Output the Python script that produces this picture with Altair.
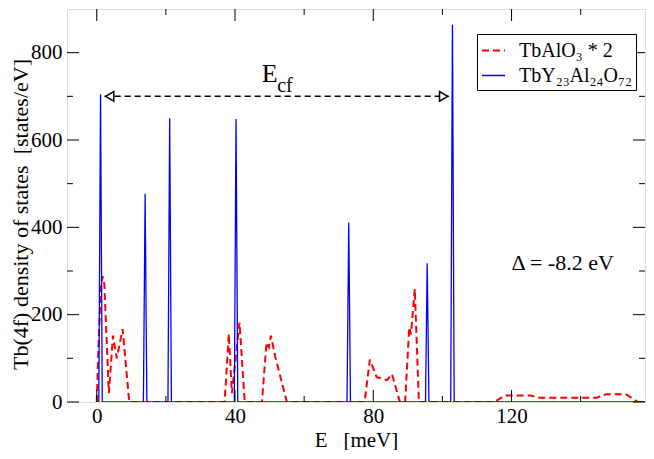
import altair as alt
import pandas as pd

# ---- data ----
red_name = "TbAlO₃ * 2"
blue_name = "TbY₂₃Al₂₄O₇₂"

red_x = [0.0, 0.6, 1.2, 1.7, 2.2, 3.5, 4.7, 5.8, 7.5, 9.4,
         37.0, 38.2, 39.1, 41.3, 42.8,
         47.8, 49.1, 49.8, 50.4, 51.6, 55.0,
         77.5, 79.0, 81.0, 84.0, 85.4, 87.7,
         89.2, 90.4, 90.9, 92.0, 93.2,
         115.1, 118.0, 125.6, 127.4, 144.6, 147.4, 153.0, 156.6, 158.6]
red_y = [0, 150, 260, 288, 270, 20, 152, 100, 167, 0,
         0, 156, 20, 182, 0,
         0, 136, 125, 152, 105, 0,
         0, 97, 57, 50, 64, 0,
         0, 171, 155, 259, 0,
         0, 15, 15, 10, 10, 18, 18, 0, 0]

blue_x = [0.0, 0.6, 1.1, 1.6, 13.5, 14.0, 14.5, 20.6, 21.1, 21.6,
          39.8, 40.3, 40.8, 72.4, 72.9, 73.4, 95.1, 95.6, 96.1,
          102.4, 102.9, 103.4, 158.6]
blue_y = [0, 0, 705, 0, 0, 477, 0, 0, 650, 0,
          0, 648, 0, 0, 411, 0, 0, 318, 0,
          0, 864, 0, 0]

x_major = [0, 40, 80, 120]
x_minor = [20, 60, 100, 140]
y_major = [0, 200, 400, 600, 800]
y_minor = [100, 300, 500, 700]

arrow_tips = [2.3, 101.8]
arrow_level = [700]
ecf_main = ["E"]
ecf_sub = ["cf"]
delta_text = ["Δ = -8.2 eV"]

x_title = "E\u00a0\u00a0\u00a0[meV]"
y_title = "Tb(4f) density of states\u00a0\u00a0[states/eV]"

# ---- layout ----
W, H = 578, 393
XDOM = [-8.6, 158.6]
YDOM = [0, 900]
FONT = "Liberation Serif, Times New Roman, serif"

df = pd.concat([
    pd.DataFrame({"x": red_x, "y": red_y, "series": red_name, "i": range(len(red_x))}),
    pd.DataFrame({"x": blue_x, "y": blue_y, "series": blue_name, "i": range(len(blue_x))}),
], ignore_index=True)

xs = alt.Scale(domain=XDOM, nice=False, zero=False)
ys = alt.Scale(domain=YDOM, nice=False, zero=False)

xaxis = alt.Axis(orient="bottom", values=x_major, ticks=False,
                 domain=False, labelFont=FONT, labelFontSize=21, labelColor="black", labelPadding=3,
                 title=x_title, titleFont=FONT, titleFontSize=21, titleFontWeight="normal",
                 titleColor="black", titleY=44, titleBaseline="alphabetic", grid=False,
                 labelFlush=False)
yaxis = alt.Axis(orient="left", values=y_major, ticks=False,
                 domain=False, labelFont=FONT, labelFontSize=21, labelColor="black", labelPadding=5,
                 title=y_title, titleFont=FONT, titleFontSize=22, titleFontWeight="normal",
                 titleColor="black", titleX=-40, titleY=205, titleBaseline="alphabetic",
                 grid=False)

legend = alt.Legend(orient="none", legendX=410, legendY=25, title=None,
                    symbolType="stroke", symbolSize=529, symbolStrokeWidth=1.5,
                    labelFont=FONT, labelFontSize=20, labelColor="black",
                    labelOffset=13, labelLimit=400,
                    strokeColor="black", fillColor="white", padding=4,
                    rowPadding=2, cornerRadius=0)

lines = alt.Chart(df).mark_line(clip=True).encode(
    x=alt.X("x:Q", scale=xs, axis=xaxis),
    y=alt.Y("y:Q", scale=ys, axis=yaxis),
    color=alt.Color("series:N", scale=alt.Scale(domain=[red_name, blue_name],
                    range=["#ff0000", "#0000ff"]), legend=legend),
    strokeDash=alt.StrokeDash("series:N", scale=alt.Scale(domain=[red_name, blue_name],
                    range=[[7, 4], [1, 0]]), legend=legend),
    strokeWidth=alt.StrokeWidth("series:N", scale=alt.Scale(domain=[red_name, blue_name],
                    range=[2, 1.3]), legend=None),
    order="i:Q",
)

xmaj_df = pd.DataFrame({"x": x_major})
xmin_df = pd.DataFrame({"x": x_minor})
ymaj_df = pd.DataFrame({"y": y_major})
ymin_df = pd.DataFrame({"y": y_minor})


def xticks(d, y0, y1):
    return alt.Chart(d).mark_rule(color="black", strokeWidth=1).encode(
        x=alt.X("x:Q", scale=xs, axis=xaxis), y=alt.value(y0), y2=alt.value(y1))


def yticks(d, x0, x1):
    return alt.Chart(d).mark_rule(color="black", strokeWidth=1).encode(
        y=alt.Y("y:Q", scale=ys, axis=yaxis), x=alt.value(x0), x2=alt.value(x1))


tick_layers = [
    xticks(xmaj_df, H, H - 12), xticks(xmin_df, H, H - 6),
    xticks(xmaj_df, 0, 12), xticks(xmin_df, 0, 6),
    yticks(ymaj_df, 0, 12), yticks(ymin_df, 0, 6),
    yticks(ymaj_df, W, W - 12), yticks(ymin_df, W, W - 6),
]

arrow_df = pd.DataFrame({"x": [arrow_tips[0]], "x2": [arrow_tips[1]], "y": arrow_level})
arrow_line = alt.Chart(arrow_df).mark_rule(color="black", strokeWidth=1.5, strokeDash=[6, 4]).encode(
    x=alt.X("x:Q", scale=xs, axis=xaxis), x2="x2:Q", y=alt.Y("y:Q", scale=ys, axis=yaxis))


def head(tip, shape, dx):
    return alt.Chart(pd.DataFrame({"x": [tip], "y": arrow_level})).mark_point(
        shape=shape, size=90, filled=True, fill="white", stroke="black",
        strokeWidth=1.5, opacity=1, xOffset=dx).encode(
        x=alt.X("x:Q", scale=xs, axis=xaxis), y=alt.Y("y:Q", scale=ys, axis=yaxis))


head_l = head(arrow_tips[0], "triangle-left", 5)
head_r = head(arrow_tips[1], "triangle-right", -5)


def label(xv, yv, t, size):
    return alt.Chart(pd.DataFrame({"x": [xv], "y": [yv], "t": t})).mark_text(
        align="left", baseline="alphabetic", font=FONT, fontSize=size, color="black").encode(
        x=alt.X("x:Q", scale=xs, axis=xaxis), y=alt.Y("y:Q", scale=ys, axis=yaxis), text="t:N")


txt_e = label(47.7, 733, ecf_main, 26)
txt_cf = label(52.2, 710, ecf_sub, 20)
txt_d = label(120.0, 303, delta_text, 22)

chart = alt.layer(lines, *tick_layers, arrow_line, head_l, head_r, txt_e, txt_cf, txt_d).properties(
    width=W, height=H,
    autosize=alt.AutoSizeParams(type="none"),
    padding={"left": 59, "top": 1, "right": 1, "bottom": 48},
).configure_view(stroke="black", strokeWidth=1.5).configure(background="white")

chart.save("out.html", embed_options={"renderer": "svg", "actions": False})
